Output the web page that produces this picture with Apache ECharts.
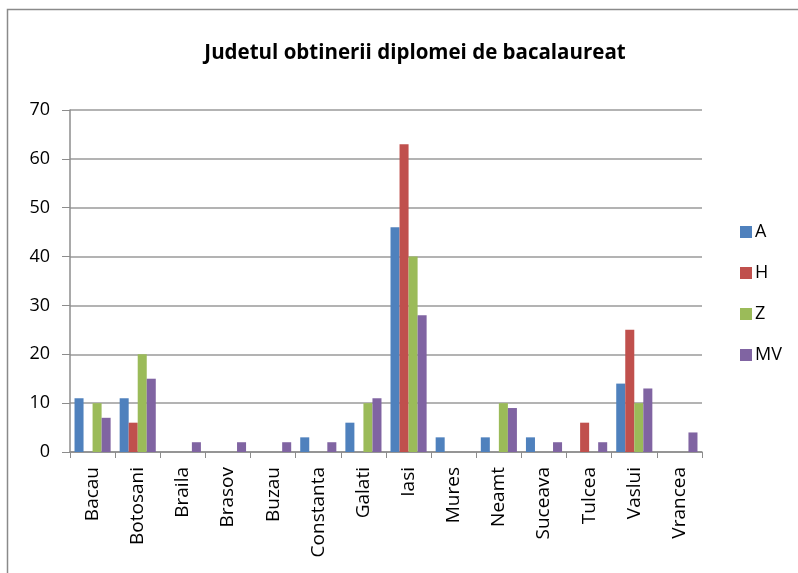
<!DOCTYPE html>
<html>
<head>
<meta charset="utf-8">
<script src="https://cdn.jsdelivr.net/npm/echarts@6/dist/echarts.min.js"></script>
<style>html,body{margin:0;padding:0;background:#fff}#c{width:798px;height:573px}</style>
</head>
<body>
<div id="c"></div>
<script>
const categories = ["Bacau","Botosani","Braila","Brasov","Buzau","Constanta","Galati","Iasi","Mures","Neamt","Suceava","Tulcea","Vaslui","Vrancea"];
const seriesNames = ["A","H","Z","MV"];
const valuesA  = [11, 11, 0, 0, 0, 3, 6, 46, 3, 3, 3, 0, 14, 0];
const valuesH  = [0, 6, 0, 0, 0, 0, 0, 63, 0, 0, 0, 6, 25, 0];
const valuesZ  = [10, 20, 0, 0, 0, 0, 10, 40, 0, 10, 0, 0, 10, 0];
const valuesMV = [7, 15, 2, 2, 2, 2, 11, 28, 0, 9, 2, 2, 13, 4];
const yTicks = [0,10,20,30,40,50,60,70];
const colors = ["#4F81BD","#C0504D","#9BBB59","#8064A2"];

const chart = echarts.init(document.getElementById('c'));
const allValues = [valuesA, valuesH, valuesZ, valuesMV];
chart.setOption({
  animation: false,
  graphic: [{
    type: 'rect',
    shape: {x: 7.5, y: 9.5, width: 800, height: 570},
    style: {fill: 'none', stroke: '#8a8a8a', lineWidth: 1.5}
  }],
  title: {
    text: 'Judetul obtinerii diplomei de bacalaureat',
    left: 410, top: 38, textAlign: 'center',
    textStyle: {fontFamily: 'Open Sans', fontWeight: 'bold', fontSize: 20.5, color: '#000'}
  },
  legend: {
    orient: 'vertical',
    left: 735, top: 218,
    itemGap: 23, itemWidth: 12, itemHeight: 12,
    icon: 'rect',
    data: seriesNames,
    textStyle: {fontFamily: 'Open Sans', fontSize: 18, color: '#000', padding: [0,0,0,-2]}
  },
  grid: {left: 70, right: 96, top: 110, bottom: 121, containLabel: false},
  xAxis: {
    type: 'category',
    data: categories,
    axisLine: {lineStyle: {color: '#8c8c8c', width: 1.5}},
    axisTick: {show: true, length: 6, lineStyle: {color: '#8c8c8c'}},
    axisLabel: {rotate: 90, interval: 0, margin: 15, fontFamily: 'Open Sans', fontSize: 19, color: '#000'}
  },
  yAxis: {
    type: 'value', min: 0, max: 70, interval: 10,
    axisLine: {show: true, lineStyle: {color: '#8c8c8c', width: 1.5}},
    axisTick: {show: true, length: 8, lineStyle: {color: '#8c8c8c'}},
    splitLine: {lineStyle: {color: '#9a9a9a', width: 1.5}},
    axisLabel: {margin: 20, fontFamily: 'Open Sans', fontSize: 18, color: '#000',
      formatter: v => yTicks.includes(v) ? String(v) : ''}
  },
  series: seriesNames.map((n, i) => ({
    name: n, type: 'bar', data: allValues[i],
    barGap: '0%', barCategoryGap: '20%',
    itemStyle: {color: colors[i]}
  }))
});
</script>
</body>
</html>
